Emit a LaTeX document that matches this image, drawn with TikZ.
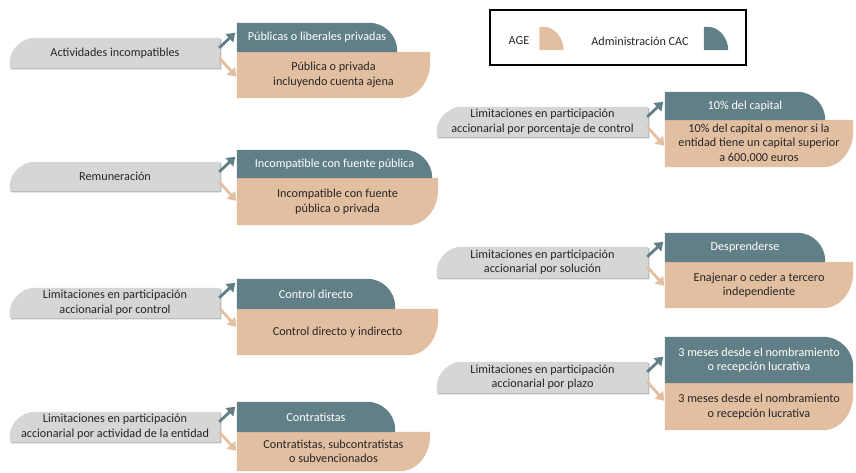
\documentclass[tikz,border=0pt]{standalone}
\usepackage{fontspec}
\setmainfont{Carlito}
\usetikzlibrary{calc,arrows.meta}
\definecolor{grayc}{HTML}{D5D6D6}
\definecolor{shadowc}{HTML}{B9BABA}
\definecolor{tealc}{HTML}{617F86}
\definecolor{tanc}{HTML}{E3BFA1}
\definecolor{textc}{HTML}{262626}
\pgfdeclarelayer{bg}
\pgfsetlayers{bg,main}
\tikzset{
  box/.style={inner sep=0pt, align=center, font=\fontsize{12.2}{14.5}\selectfont, text=textc},
  graynode/.style={box, minimum width=210pt},
  tealnode/.style={box, text=white},
  tannode/.style={box},
  tealarrow/.style={draw=tealc, line width=2.8pt, -{Triangle[length=8pt,width=11pt]}},
  tanarrow/.style={draw=tanc, line width=2.8pt, -{Triangle[length=8pt,width=11pt]}},
  legendbox/.style={draw=black, line width=1.6pt, minimum width=256pt, minimum height=55pt, inner sep=0pt},
  legendtext/.style={box},
  quarternode/.style={inner sep=0pt, minimum width=24pt, minimum height=23pt}
}
\newcommand\grayshape[1]{%
  \fill[shadowc] ($(#1.south west)+(1.2,1.2)$) -- ($(#1.north west)+(1.2,25.2)$)
    .. controls ($(#1.north west)+(1.2,11.9)$) and ($(#1.north west)+(14.5,1.2)$) .. ($(#1.north west)+(25.2,1.2)$)
    -- ($(#1.north east)+(1.2,1.2)$) -- ($(#1.south east)+(1.2,1.2)$) -- cycle;
  \fill[grayc] (#1.south west) -- ($(#1.north west)+(0,24)$)
    .. controls ($(#1.north west)+(0,10.7)$) and ($(#1.north west)+(13.3,0)$) .. ($(#1.north west)+(24,0)$)
    -- (#1.north east) -- (#1.south east) -- cycle;}
\newcommand\tealshape[2]{%
  \fill[tealc] (#1.south west) -- (#1.north west) -- ($(#1.north east)+(-#2,0)$)
    .. controls ($(#1.north east)+(-0.448*#2,0)$) and ($(#1.north east)+(0,0.448*#2)$) .. ($(#1.north east)+(0,#2)$)
    -- (#1.south east) -- cycle;}
\newcommand\tanshape[1]{%
  \fill[tanc] (#1.north west) -- (#1.north east) -- ($(#1.south east)+(0,-36)$)
    .. controls ($(#1.south east)+(0,-16)$) and ($(#1.south east)+(-13.5,0)$) .. ($(#1.south east)+(-30,0)$)
    -- (#1.south west) -- cycle;}
\newcommand\quartershape[2]{%
  \fill[#2] (#1.south west) -- (#1.north west) -- ($(#1.north west)+(4,0)$)
    .. controls ($(#1.north east)+(-9,0)$) and ($(#1.south east)+(0,-12)$) .. (#1.south east) -- cycle;}
\newcommand\arrowpair[1]{%
  \coordinate (#1-ta) at ($(#1.north east)+(-1,10)$);
  \coordinate (#1-tb) at ($(#1.north east)+(15,-5)$);
  \coordinate (#1-na) at ($(#1.north east)+(-1,20)$);
  \coordinate (#1-nb) at ($(#1.north east)+(16,39)$);
  \draw[tealarrow] (#1-ta) -- (#1-tb);
  \draw[tanarrow] (#1-na) -- (#1-nb);}
\begin{document}
\begin{tikzpicture}[x=1pt,y=-1pt]
\useasboundingbox (0,0) rectangle (856,473);

% ---- left column
\node[graynode, minimum height=30pt] (g1) at (115,53) {Actividades incompatibles};
\node[tealnode, minimum width=160pt, minimum height=29pt] (t1) at (317,37.5) {Públicas o liberales privadas};
\node[tannode, minimum width=193pt, minimum height=46pt] (n1) at (333.5,75) {Pública o privada\\incluyendo cuenta ajena};

\node[graynode, minimum height=29pt] (g2) at (115,176.5) {Remuneración};
\node[tealnode, minimum width=195pt, minimum height=28pt] (t2) at (334.5,164) {Incompatible con fuente pública};
\node[tannode, minimum width=201pt, minimum height=47pt] (n2) at (337.5,201.5) {Incompatible con fuente\\pública o privada};

\node[graynode, minimum height=30pt] (g3) at (115,303) {Limitaciones en participación\\accionarial por control};
\node[tealnode, minimum width=158pt, minimum height=30pt] (t3) at (316,294) {Control directo};
\node[tannode, minimum width=201pt, minimum height=46pt] (n3) at (337.5,332) {Control directo y indirecto};

\node[graynode, minimum height=30pt] (g4) at (115,427) {Limitaciones en participación\\accionarial por actividad de la entidad};
\node[tealnode, minimum width=158pt, minimum height=30pt] (t4) at (316,417) {Contratistas};
\node[tannode, minimum width=193pt, minimum height=39pt] (n4) at (333.5,451.5) {Contratistas, subcontratistas\\o subvencionados};

% ---- right column
\node[graynode, minimum width=211pt, minimum height=30pt] (g5) at (542.5,122) {Limitaciones en participación\\accionarial por porcentaje de control};
\node[tealnode, minimum width=160pt, minimum height=28pt] (t5) at (745,106) {10\% del capital};
\node[tannode, minimum width=188pt, minimum height=47pt] (n5) at (759,143.5) {10\% del capital o menor si la\\entidad tiene un capital superior\\a 600,000 euros};

\node[graynode, minimum width=211pt, minimum height=31pt] (g6) at (542.5,262.5) {Limitaciones en participación\\accionarial por solución};
\node[tealnode, minimum width=160pt, minimum height=29pt] (t6) at (745,247.5) {Desprenderse};
\node[tannode, minimum width=188pt, minimum height=46pt] (n6) at (759,285) {Enajenar o ceder a tercero\\independiente};

\node[graynode, minimum width=211pt, minimum height=31pt] (g7) at (542.5,377.5) {Limitaciones en participación\\accionarial por plazo};
\node[tealnode, minimum width=188pt, minimum height=46pt] (t7) at (759,360) {3 meses desde el nombramiento\\o recepción lucrativa};
\node[tannode, minimum width=188pt, minimum height=47pt] (n7) at (759,406.5) {3 meses desde el nombramiento\\o recepción lucrativa};

% ---- legend
\node[legendbox] (legend) at (618,37.5) {};
\node[legendtext] (legage) at (519,41) {AGE};
\node[quarternode] (qage) at (551.5,38.5) {};
\node[legendtext] (legcac) at (640,41) {Administración CAC};
\node[quarternode] (qcac) at (716,38.5) {};

% ---- shapes on background
\begin{pgfonlayer}{bg}
  \foreach \g in {g1,g2,g3,g4,g5,g6,g7} {\grayshape{\g}}
  \foreach \n in {n1,n2,n3,n4,n5,n6,n7} {\tanshape{\n}}
  \tealshape{t1}{28}\tealshape{t2}{28}\tealshape{t3}{28}\tealshape{t4}{28}
  \tealshape{t5}{28}\tealshape{t6}{28}\tealshape{t7}{30}
  \quartershape{qage}{tanc}
  \quartershape{qcac}{tealc}
\end{pgfonlayer}

% ---- arrows
\arrowpair{g1}\arrowpair{g2}\arrowpair{g3}\arrowpair{g4}
\arrowpair{g5}\arrowpair{g6}\arrowpair{g7}
\end{tikzpicture}
\end{document}
